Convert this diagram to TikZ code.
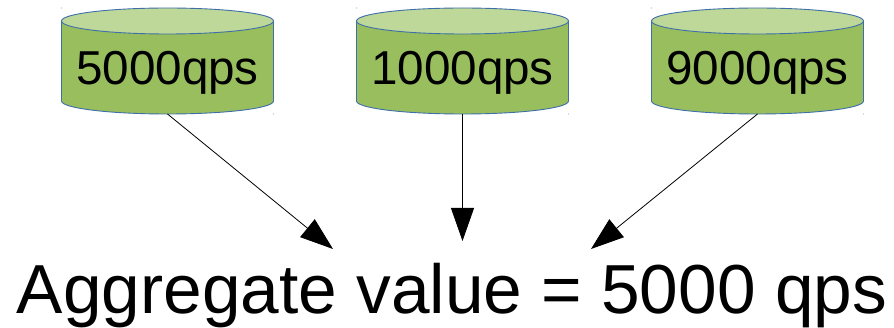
\documentclass[tikz,border=0pt]{standalone}
\usepackage{fontspec}
\setmainfont{Liberation Sans}
\usetikzlibrary{arrows.meta}
\definecolor{cylbody}{HTML}{98BE5E}
\definecolor{cyltop}{HTML}{BDD898}
\definecolor{cylline}{HTML}{3F6FA8}
\definecolor{tickdot}{HTML}{9DB4D0}
\tikzset{
  x=1pt,y=-1pt,
  cyllabel/.style={minimum width=212pt,minimum height=106pt,inner sep=0pt,font=\fontsize{47.6pt}{50pt}\selectfont,text=black},
  cylshape/.style={fill=cylbody,draw=cylline,line width=0.9pt},
  cyllid/.style={fill=cyltop,draw=cylline,line width=0.9pt},
  flow/.style={draw=black,line width=0.8pt,-{Triangle[length=33pt,width=23pt]}},
}
\newcommand{\drum}[3]{%
  \fill[tickdot] (#1-106,8) circle (0.7);
  \fill[tickdot] (#1+106,114) circle (0.7);
  \path[cylshape] (#1-106,21) -- (#1-106,101) arc[start angle=180,end angle=360,x radius=106,y radius=-13] -- (#1+106,21) -- cycle;
  \path[cyllid] (#1,21) ellipse[x radius=106,y radius=13];
  \node[cyllabel,anchor=south] (#2) at (#1,114) {\smash{\raisebox{-23.5pt}{#3}}};
}
\begin{document}
\begin{tikzpicture}
\useasboundingbox (0,0) rectangle (894,328);
\drum{167.5}{a}{5000qps}
\drum{462.5}{b}{1000qps}
\drum{757.5}{c}{9000qps}
\node[inner sep=0pt,anchor=base,font=\fontsize{69.4pt}{72pt}\selectfont] (total) at (452,314) {Aggregate value = 5000 qps};
\coordinate (ta) at (333,249);
\coordinate (tb) at (462.5,241);
\coordinate (tc) at (591,249);
\draw[flow] (a.south) -- (ta);
\draw[flow] (b.south) -- (tb);
\draw[flow] (c.south) -- (tc);
\end{tikzpicture}
\end{document}
